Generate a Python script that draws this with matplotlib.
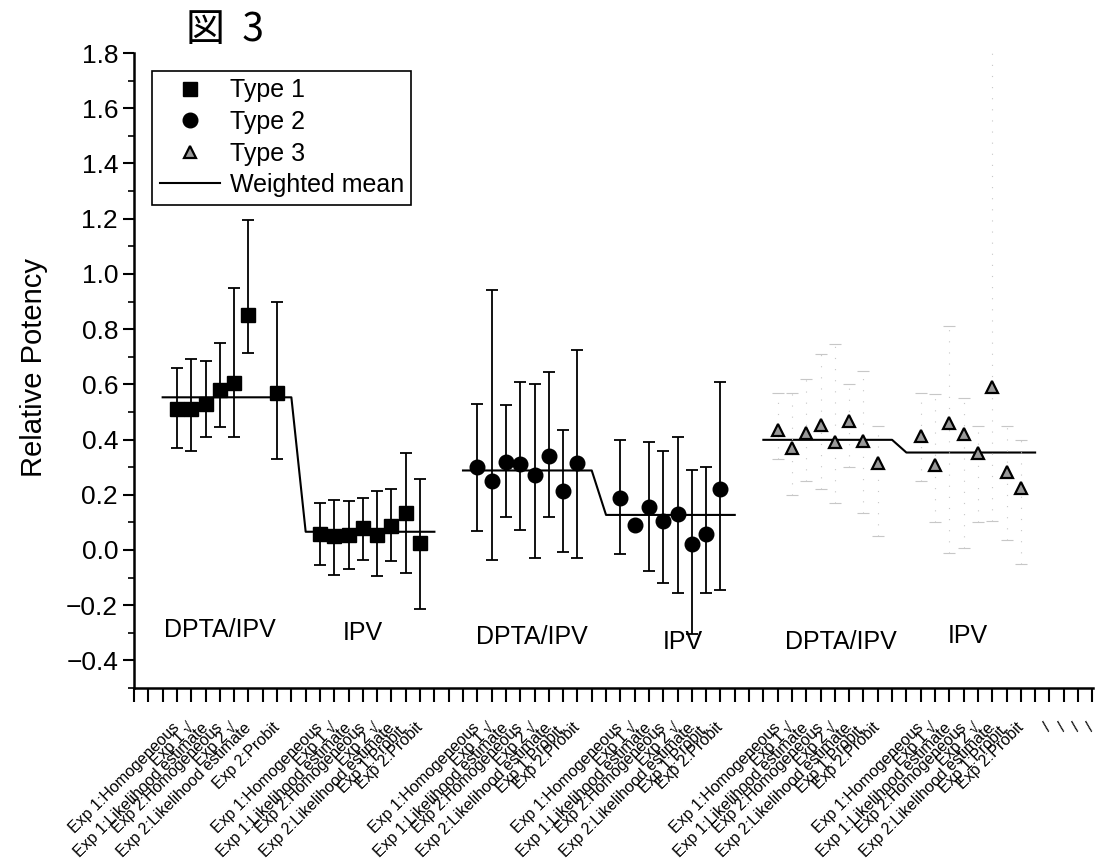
import numpy as np
import matplotlib.pyplot as plt

plt.rcParams['font.family'] = ['Liberation Sans', 'DejaVu Sans']

nan = np.nan

# estimate names along the x axis (eight per vaccine group)
slot_names = ['Exp 1:Homogeneous', 'Exp 1 \u221a', 'Exp 1:Likelihood estimate',
              'Exp 2:Homogeneous', 'Exp 2 \u221a', 'Exp 2:Likelihood estimate',
              'Exp 1:Probit.', 'Exp 2:Probit']
group_names = ['DPTA/IPV', 'IPV', 'DPTA/IPV', 'IPV', 'DPTA/IPV', 'IPV']

# Type 1
t1_dpta = [0.51, 0.51, 0.53, 0.58, 0.605, 0.85, nan, 0.57]
t1_dpta_hi = [0.66, 0.69, 0.685, 0.75, 0.95, 1.195, nan, 0.90]
t1_dpta_lo = [0.37, 0.36, 0.41, 0.445, 0.41, 0.715, nan, 0.33]
t1_ipv = [0.058, 0.05, 0.053, 0.078, 0.056, 0.087, 0.133, 0.026]
t1_ipv_hi = [0.17, 0.18, 0.178, 0.19, 0.215, 0.22, 0.35, 0.256]
t1_ipv_lo = [-0.055, -0.092, -0.07, -0.035, -0.094, -0.041, -0.083, -0.213]

# Type 2
t2_dpta = [0.30, 0.25, 0.318, 0.312, 0.27, 0.34, 0.214, 0.315]
t2_dpta_hi = [0.53, 0.94, 0.525, 0.61, 0.60, 0.645, 0.435, 0.725]
t2_dpta_lo = [0.07, -0.037, 0.12, 0.072, -0.03, 0.12, -0.007, -0.03]
t2_ipv = [0.19, 0.09, 0.157, 0.106, 0.13, 0.021, 0.058, 0.22]
t2_ipv_hi = [0.40, 0.09, 0.39, 0.357, 0.408, 0.29, 0.30, 0.607]
t2_ipv_lo = [-0.013, 0.09, -0.076, -0.118, -0.156, -0.306, -0.156, -0.146]

# Type 3
t3_dpta = [0.436, 0.37, 0.424, 0.454, 0.39, 0.466, 0.393, 0.315]
t3_dpta_hi = [0.57, 0.57, 0.62, 0.71, 0.745, 0.60, 0.65, 0.45]
t3_dpta_lo = [0.33, 0.20, 0.25, 0.22, 0.17, 0.30, 0.135, 0.05]
t3_ipv = [0.414, 0.308, 0.46, 0.421, 0.351, 0.591, 0.284, 0.224]
t3_ipv_hi = [0.57, 0.565, 0.81, 0.55, 0.45, 1.81, 0.45, 0.40]
t3_ipv_lo = [0.25, 0.10, -0.01, 0.007, 0.10, 0.105, 0.036, -0.05]

# weighted means (DPTA/IPV, IPV) per type
wmean1 = [0.553, 0.066]
wmean2 = [0.288, 0.127]
wmean3 = [0.399, 0.353]

fig = plt.figure(figsize=(10.96, 8.61), dpi=100)
ax = fig.add_axes([0.1223, 0.2009, 0.875, 0.7375])

starts = [3, 13, 24, 34, 45, 55]
slots = np.arange(8)


def draw_errs(start, val, lo, hi, color='k', lw=1.3, ls='-', capcolor=None):
    val, lo, hi = np.array(val), np.array(lo), np.array(hi)
    ok = ~np.isnan(val)
    x = start + slots[ok]
    eb = ax.errorbar(x, val[ok], yerr=[val[ok] - lo[ok], hi[ok] - val[ok]],
                     fmt='none', ecolor=color, elinewidth=lw, capsize=4.5,
                     capthick=lw)
    eb[2][0].set_linestyle(ls)
    if capcolor is not None:
        for c in eb[1]:
            c.set_color(capcolor)
    return x, val[ok]


def draw_mean(s1, s2, means, label=None):
    xs = [s1 - 1, s1 + 8, s1 + 9, s2 + 8]
    ys = [means[0], means[0], means[1], means[1]]
    ax.plot(xs, ys, color='k', lw=1.5, label=label)


# Type 1
draw_mean(starts[0], starts[1], wmean1, 'Weighted mean')
xa, ya = draw_errs(starts[0], t1_dpta, t1_dpta_lo, t1_dpta_hi)
xb, yb = draw_errs(starts[1], t1_ipv, t1_ipv_lo, t1_ipv_hi)
ax.plot(np.r_[xa, xb], np.r_[ya, yb], 's', color='k', ms=9.5, label='Type 1',
        zorder=5)

# Type 2
draw_mean(starts[2], starts[3], wmean2)
xa, ya = draw_errs(starts[2], t2_dpta, t2_dpta_lo, t2_dpta_hi)
xb, yb = draw_errs(starts[3], t2_ipv, t2_ipv_lo, t2_ipv_hi)
ax.plot(np.r_[xa, xb], np.r_[ya, yb], 'o', color='k', ms=10.5, label='Type 2',
        zorder=5)

# Type 3 (error bars printed very faintly)
draw_mean(starts[4], starts[5], wmean3)
faint = dict(color='0.78', lw=0.8, ls=(0, (1, 9)), capcolor='0.85')
xa, ya = draw_errs(starts[4], t3_dpta, t3_dpta_lo, t3_dpta_hi, **faint)
xb, yb = draw_errs(starts[5], t3_ipv, t3_ipv_lo, t3_ipv_hi, **faint)
ax.plot(np.r_[xa, xb], np.r_[ya, yb], '^', mfc='0.6', mec='k', mew=1.6,
        ms=9, label='Type 3', zorder=5)

# group captions
cap_pos = [(6.0, -0.29), (16.0, -0.30), (27.8, -0.315),
           (38.4, -0.335), (49.4, -0.335), (58.3, -0.31)]
for name, (gx, gy) in zip(group_names, cap_pos):
    ax.text(gx, gy, name, ha='center', va='center', fontsize=18)

# x tick labels
ticks = np.arange(0, 68)
labels = [''] * len(ticks)
for gi, s in enumerate(starts):
    for j, nm in enumerate(slot_names):
        if gi == 0 and j == 6:
            continue
        labels[s + j] = nm
for k in range(64, 68):
    labels[k] = '/'
ax.set_xticks(ticks)
ax.set_xticklabels(labels, rotation=45, ha='right', va='center',
                   rotation_mode='anchor', fontsize=11.5)
ax.tick_params(axis='x', direction='out', length=10, width=1.5, pad=17)

ax.set_xlim(0, 67.05)
ax.set_ylim(-0.5, 1.8)
ax.set_yticks(np.arange(-0.4, 1.81, 0.2))
ax.set_yticks(np.arange(-0.5, 1.81, 0.1), minor=True)
ax.yaxis.set_major_formatter(plt.FuncFormatter(
    lambda v, p: ('%.1f' % v).replace('-', '\u2212')))
ax.tick_params(axis='y', which='major', direction='out', length=8, width=1.5,
               labelsize=19)
ax.tick_params(axis='y', which='minor', direction='out', length=4, width=1.2)

for side in ['top', 'right']:
    ax.spines[side].set_visible(False)
for side in ['left', 'bottom']:
    ax.spines[side].set_linewidth(1.8)

ax.set_ylabel('Relative Potency', fontsize=21)
ax.yaxis.set_label_coords(-0.09, 0.505)

# legend
h, l = ax.get_legend_handles_labels()
order = [l.index(n) for n in ['Type 1', 'Type 2', 'Type 3', 'Weighted mean']]
leg = ax.legend([h[i] for i in order], [l[i] for i in order],
                loc='upper left', bbox_to_anchor=(152 / 1096, 1 - 71 / 861),
                bbox_transform=fig.transFigure, borderaxespad=0,
                fontsize=18, labelspacing=0.3, handlelength=2.4,
                handletextpad=0.4, borderpad=0.3, fancybox=False,
                framealpha=1, edgecolor='k')
leg.get_frame().set_linewidth(1.2)

fig.text(225 / 1096, 1 - 30 / 861, '図  3', ha='center', va='center',
         fontsize=28, family=['Noto Sans CJK JP', 'DejaVu Sans'])

fig.savefig('out.png', dpi=100)
